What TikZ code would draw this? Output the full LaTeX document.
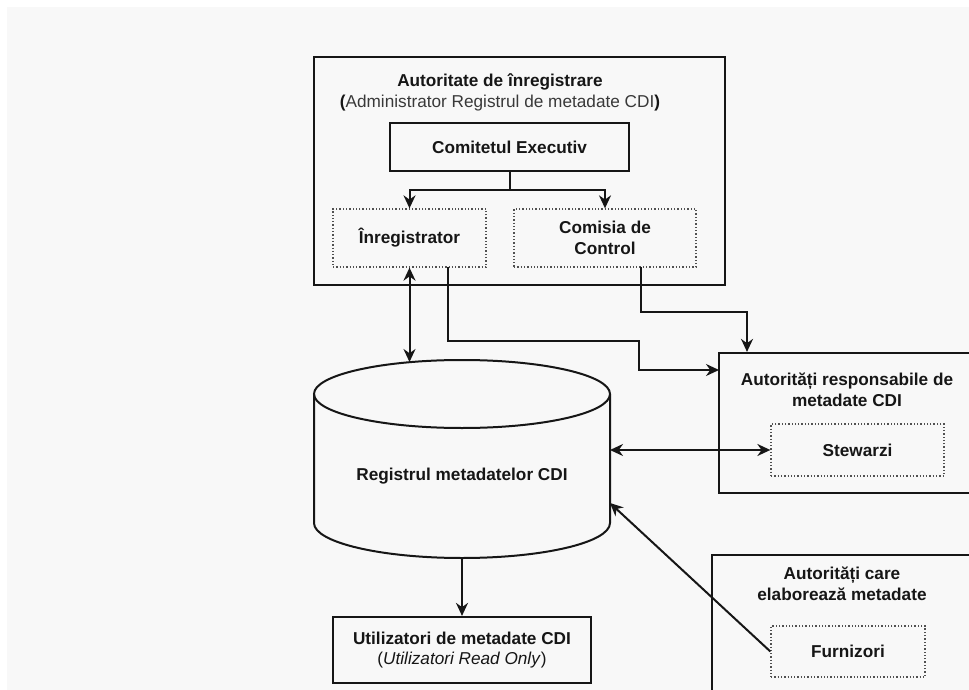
\documentclass[tikz,border=0pt]{standalone}
\usepackage{fontspec}
\setmainfont{Liberation Sans}
\usetikzlibrary{arrows.meta}
\definecolor{paper}{HTML}{F8F8F8}
\definecolor{ink}{HTML}{161616}
\begin{document}
\begin{tikzpicture}[x=1pt,y=-1pt,
  every node/.style={font=\fontsize{17.2}{20.5}\selectfont\bfseries, text=ink, align=center},
  box/.style={draw=ink, line width=2.2pt, inner sep=0pt},
  dotbox/.style={draw=ink!75, line width=1.3pt, dotted, inner sep=0pt},
  conn/.style={draw=ink, line width=2pt, -{Stealth[length=13pt,width=12pt]}},
  biconn/.style={draw=ink, line width=2pt, {Stealth[length=13pt,width=12pt]}-{Stealth[length=13pt,width=12pt]}},
  plain/.style={draw=ink, line width=2pt}]
  % page
  \useasboundingbox (0,0) rectangle (969,690);
  \fill[white] (0,0) rectangle (969,690);
  \fill[paper] (7,7) rectangle (969,690);

  % registration authority
  \node[box, minimum width=411pt, minimum height=228pt] (auth) at (519.5,171) {};
  \node (authT) at (500,92.5) {Autoritate de înregistrare\\
    (\mdseries\color{ink!85}Administrator Registrul de metadate CDI\color{ink}\bfseries)};
  \node[box, minimum width=239pt, minimum height=48pt] (ce) at (509.5,147) {Comitetul Executiv};
  \node[dotbox, minimum width=153pt, minimum height=58pt] (inreg) at (409.5,238) {Înregistrator};
  \node[dotbox, minimum width=182pt, minimum height=58pt] (cc) at (605,238) {Comisia de\\Control};

  % metadata register (cylinder)
  \draw[line width=2pt, draw=ink] (462,394) ellipse [x radius=148, y radius=34];
  \draw[line width=2pt, draw=ink] (314,394) -- (314,523)
     .. controls (314,542.3) and (380.3,558) .. (462,558)
     .. controls (543.7,558) and (610,542.3) .. (610,523) -- (610,394);
  \node[minimum width=296pt, minimum height=164pt, inner sep=0pt, outer sep=0pt] (reg) at (462,476) {Registrul metadatelor CDI};
  \coordinate (regtop) at (409.5,362);
  \coordinate (regin) at (610,503);

  % responsible authorities
  \node[box, minimum width=260pt, minimum height=140pt] (resp) at (849,423) {};
  \node (respT) at (847,390) {Autorități responsabile de\\metadate CDI};
  \node[dotbox, minimum width=173pt, minimum height=52pt] (stew) at (857.5,450) {Stewarzi};

  % producing authorities
  \node[box, minimum width=270pt, minimum height=150pt] (prod) at (847,630) {};
  \node (prodT) at (842,584) {Autorități care\\elaborează metadate};
  \node[dotbox, minimum width=154pt, minimum height=51pt] (furn) at (848,651.5) {Furnizori};

  % users
  \node[box, minimum width=258pt, minimum height=66pt] (users) at (462,650) {Utilizatori de metadate CDI\\
    \mdseries(\textit{Utilizatori Read Only})};

  % connectors
  \coordinate (split) at (509.5,190);
  \draw[plain] (ce.south) -- (split);
  \draw[conn] (split) -| (inreg.north);
  \draw[conn] (split) -| (cc.north);
  \draw[biconn] (inreg.south) -- (regtop);
  \coordinate (a1) at (448,267);
  \coordinate (a2) at (639,341);
  \coordinate (a3) at (719,370);
  \draw[conn] (a1) |- (a2) |- (a3);
  \coordinate (b1) at (641,267);
  \coordinate (b2) at (747,312);
  \draw[conn] (b1) |- (b2) -- (b2 |- resp.north);
  \draw[biconn] (stew.west) -- (stew.west -| reg.east);
  \draw[conn] (furn.west) -- (regin);
  \draw[conn] (reg.south) -- (users.north);
\end{tikzpicture}
\end{document}
